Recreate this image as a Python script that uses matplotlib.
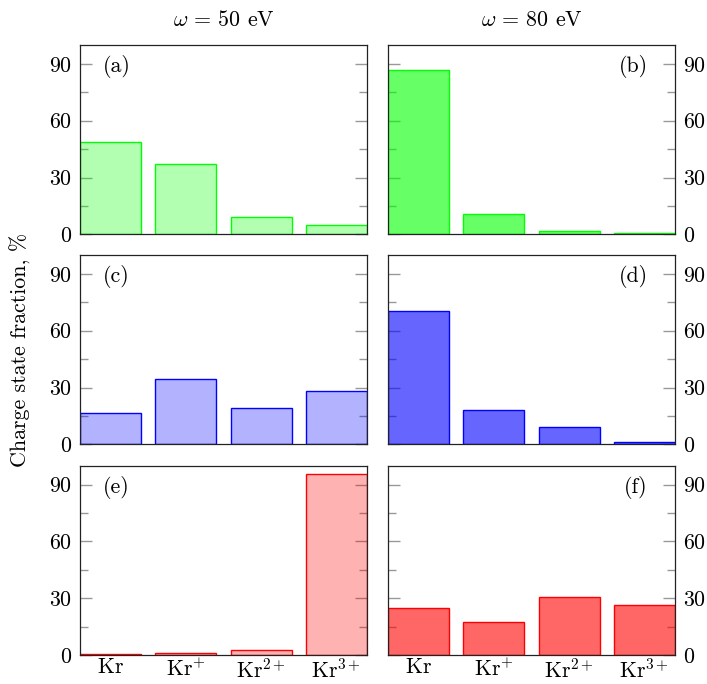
import numpy as np
import matplotlib
matplotlib.use("Agg")
import matplotlib.pyplot as plt
from matplotlib.ticker import FixedLocator

plt.rcParams["font.family"] = "serif"
plt.rcParams["font.serif"] = ["cmr10"]
plt.rcParams["mathtext.fontset"] = "cm"
plt.rcParams["axes.formatter.use_mathtext"] = True

# charge states and fractions (%) for the two photon energies
states = [r"$\mathrm{Kr}$", r"$\mathrm{Kr}^{+}$", r"$\mathrm{Kr}^{2+}$", r"$\mathrm{Kr}^{3+}$"]
energies = [50, 80]

green_50 = [49.0, 37.0, 9.3, 4.7]
green_80 = [86.8, 10.6, 2.0, 0.6]
blue_50 = [16.5, 34.7, 19.2, 28.4]
blue_80 = [70.6, 18.3, 9.0, 1.1]
red_50 = [0.3, 1.0, 2.6, 95.8]
red_80 = [24.8, 17.3, 30.8, 26.3]

rows = [
    ("#00ff00", green_50, green_80),
    ("#0000ff", blue_50, blue_80),
    ("#ff0000", red_50, red_80),
]
panel_tags = [["(a)", "(b)"], ["(c)", "(d)"], ["(e)", "(f)"]]

W, H = 707, 684
fig = plt.figure(figsize=(W / 100, H / 100), dpi=100)

lefts = [80 / W, 388 / W]
aw = 287 / W
ah = 189.3 / H
bottoms = [1 - 234.3 / H, 1 - 444.3 / H, 1 - 655 / H]
fs = 15.8
x = np.arange(len(states))
width = 0.81

for r, (col, vals50, vals80) in enumerate(rows):
    for c, (vals, alpha) in enumerate([(vals50, 0.3), (vals80, 0.6)]):
        ax = fig.add_axes([lefts[c], bottoms[r], aw, ah])
        rgb = matplotlib.colors.to_rgb(col)
        ax.bar(x, vals, width=width, color=(*rgb, alpha), edgecolor=rgb, linewidth=1.0)
        ax.set_xlim(-width / 2, 3 + width / 2)
        ax.set_ylim(0, 100)
        ax.set_axisbelow(True)
        ax.yaxis.set_major_locator(FixedLocator([0, 30, 60, 90]))
        ax.yaxis.set_minor_locator(FixedLocator([15, 45, 75]))
        ax.tick_params(axis="y", which="both", direction="in", left=True, right=True,
                       color="#999999", width=1.0, labelsize=fs,
                       labelleft=(c == 0), labelright=(c == 1), pad=6)
        ax.tick_params(axis="y", which="major", length=8.5)
        ax.tick_params(axis="y", which="minor", length=5.5)
        ax.tick_params(axis="x", length=0, labelsize=fs, pad=2)
        ax.set_xticks(x)
        if r == 2:
            ax.set_xticklabels(states)
        else:
            ax.set_xticklabels([])
        for s in ax.spines.values():
            s.set_color("#222222")
            s.set_linewidth(0.9)
        if c == 0:
            ax.text(0.08, 0.885, panel_tags[r][c], transform=ax.transAxes,
                    ha="left", va="center", fontsize=fs)
        else:
            ax.text(0.905, 0.885, panel_tags[r][c], transform=ax.transAxes,
                    ha="right", va="center", fontsize=fs)
        if r == 0:
            ax.set_title(r"$\omega \,=\, %d$ eV" % energies[c], fontsize=fs, pad=14)

fig.text(20 / W, 1 - 350 / H, "Charge state fraction, %", rotation=90,
         ha="center", va="center", fontsize=fs)

fig.savefig("out.png", dpi=100)
